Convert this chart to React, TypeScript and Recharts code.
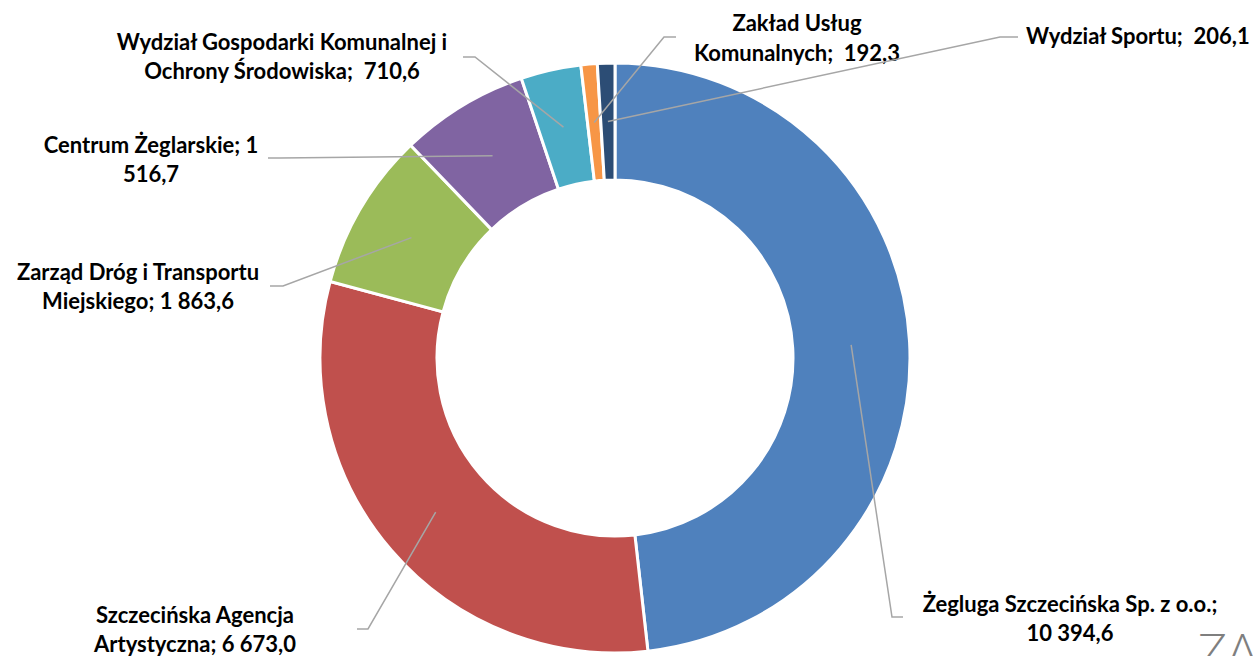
import { PieChart, Pie, Cell } from "recharts";

const CATEGORIES = [
  "Żegluga Szczecińska Sp. z o.o.",
  "Szczecińska Agencja Artystyczna",
  "Zarząd Dróg i Transportu Miejskiego",
  "Centrum Żeglarskie",
  "Wydział Gospodarki Komunalnej i Ochrony Środowiska",
  "Zakład Usług Komunalnych",
  "Wydział Sportu",
];

const VALUES = [10394.6, 6673.0, 1863.6, 1516.7, 710.6, 192.3, 206.1];

const COLORS = [
  "#4f81bd",
  "#c0504d",
  "#9bbb59",
  "#8064a2",
  "#4bacc6",
  "#f79646",
  "#2c4d75",
];

// label placement: elbow of the leader line, its end, text anchor and baselines
const LABEL_LAYOUT = [
  { elbow: [892, 617], end: [903, 617], tx: 1070, ty: [612, 641], anchor: "middle", sep: " ", firstWords: 5 },
  { elbow: [368, 629], end: [357, 629], tx: 195, ty: [623, 652], anchor: "middle", sep: " ", firstWords: 2 },
  { elbow: [283, 286], end: [270, 286], tx: 138, ty: [280, 309], anchor: "middle", sep: " ", firstWords: 4 },
  { elbow: [280, 158], end: [268, 158], tx: 151, ty: [153, 182], anchor: "middle", sep: " ", firstWords: 3 },
  { elbow: [475, 57], end: [463, 57], tx: 282, ty: [50, 79], anchor: "middle", sep: "  ", firstWords: 4 },
  { elbow: [664, 37], end: [676, 37], tx: 797, ty: [31, 61], anchor: "middle", sep: "  ", firstWords: 2 },
  { elbow: [1000, 37], end: [1018, 37], tx: 1026, ty: [44], anchor: "start", sep: "  ", firstWords: 99 },
];

const fmt = (v: number) => {
  const [int, dec] = v.toFixed(1).split(".");
  return int.replace(/\B(?=(\d{3})+(?!\d))/g, " ") + "," + dec;
};

const data = CATEGORIES.map((name, i) => ({ name, value: VALUES[i] }));

const RAD = Math.PI / 180;

function renderLabel(props: any) {
  const { cx, cy, midAngle, innerRadius, outerRadius, index } = props;
  const lay = LABEL_LAYOUT[index];
  const r = (innerRadius + outerRadius) / 2;
  const ax = cx + r * Math.cos(-midAngle * RAD);
  const ay = cy + r * Math.sin(-midAngle * RAD);
  const text = `${CATEGORIES[index]};${lay.sep}${fmt(VALUES[index])}`;
  const words = text.split(" ");
  const lines = [
    words.slice(0, lay.firstWords).join(" "),
    words.slice(lay.firstWords).join(" "),
  ].filter((l) => l.length > 0);
  return (
    <g key={`lbl-${index}`}>
      <path
        d={`M${ax},${ay}L${lay.elbow[0]},${lay.elbow[1]}L${lay.end[0]},${lay.end[1]}`}
        stroke="#a6a6a6"
        strokeWidth={1.5}
        fill="none"
      />
      <text
        textAnchor={lay.anchor}
        fontFamily="Lato, sans-serif"
        fontWeight={700}
        fontSize={22}
        fill="#000"
        style={{ whiteSpace: "pre" }}
      >
        {lines.map((l, k) => (
          <tspan key={k} x={lay.tx} y={lay.ty[k]}>
            {l}
          </tspan>
        ))}
      </text>
    </g>
  );
}

export default function App() {
  return (
    <div
      style={{
        position: "absolute",
        left: 0,
        top: 0,
        width: 1253,
        height: 656,
        background: "#fff",
        overflow: "hidden",
      }}
    >
      <PieChart width={1253} height={656} margin={{ top: 0, right: 0, bottom: 0, left: 0 }}>
        <Pie
          data={data}
          dataKey="value"
          nameKey="name"
          cx={615}
          cy={358}
          innerRadius={178}
          outerRadius={295}
          startAngle={90}
          endAngle={-270}
          stroke="#fff"
          strokeWidth={3}
          label={renderLabel}
          labelLine={false}
          isAnimationActive={false}
        >
          {data.map((_, i) => (
            <Cell key={i} fill={COLORS[i]} />
          ))}
        </Pie>
        <text
          x={1198}
          y={668}
          fontFamily="Lato, sans-serif"
          fontWeight={300}
          fontSize={48}
          fill="#7f7f7f"
        >
          ZA
        </text>
      </PieChart>
    </div>
  );
}
